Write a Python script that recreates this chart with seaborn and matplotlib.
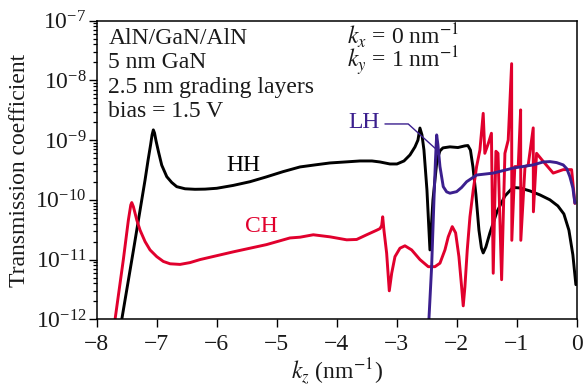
import numpy as np
import pandas as pd
import matplotlib
matplotlib.use("Agg")
import matplotlib.pyplot as plt
from matplotlib.ticker import FixedLocator, NullFormatter, LogFormatterSciNotation
import seaborn as sns

# ---------------- data ----------------
hh_kz = [-7.63, -7.583, -7.388, -7.195, -7.145, -7.103, -7.078, -7.057, -7.037, -7.012,
         -6.970, -6.917, -6.833, -6.75, -6.667, -6.528, -6.362, -6.195, -6.0, -5.728,
         -5.445, -5.178, -4.895, -4.612, -4.362, -4.112, -3.862, -3.612, -3.412, -3.278,
         -3.112, -2.995, -2.878, -2.778, -2.695, -2.645, -2.612, -2.578, -2.545, -2.495,
         -2.445, -2.395, -2.328, -2.278, -2.228, -2.112, -1.978, -1.862, -1.812, -1.77,
         -1.728, -1.678, -1.628, -1.587, -1.557, -1.512, -1.445, -1.328, -1.195, -1.062,
         -0.945, -0.778, -0.612, -0.445, -0.312, -0.212, -0.128, -0.062, -0.012]
hh_T = [6.3e-13, 1.0e-12, 1.45e-11, 2.15e-10, 4.6e-10, 8.3e-10, 1.22e-9, 1.48e-9, 1.31e-9,
        9.7e-10, 6.3e-10, 3.8e-10, 2.44e-10, 1.95e-10, 1.66e-10, 1.53e-10, 1.50e-10,
        1.51e-10, 1.56e-10, 1.74e-10, 2.01e-10, 2.41e-10, 2.96e-10, 3.55e-10, 3.84e-10,
        4.14e-10, 4.30e-10, 4.47e-10, 4.47e-10, 4.30e-10, 3.98e-10, 3.98e-10, 4.47e-10,
        5.64e-10, 7.67e-10, 1.0e-9, 1.59e-9, 1.22e-9, 6.8e-10, 1.46e-10, 1.45e-11,
        1.0e-10, 4.6e-10, 6.6e-10, 7.4e-10, 7.7e-10, 7.5e-10, 8.0e-10, 8.1e-10, 6.8e-10,
        3.55e-10, 1.21e-10, 3.1e-11, 1.57e-11, 1.29e-11, 1.63e-11, 2.8e-11, 6.3e-11,
        1.16e-10, 1.61e-10, 1.58e-10, 1.41e-10, 1.21e-10, 1.0e-10, 7.9e-11, 5.8e-11,
        3.1e-11, 1.2e-11, 3.8e-12]

ch_kz = [-7.73, -7.695, -7.557, -7.473, -7.433, -7.417, -7.39, -7.333, -7.278, -7.195,
         -7.112, -7.0, -6.89, -6.778, -6.612, -6.445, -6.278, -5.72, -5.17, -4.78, -4.61,
         -4.39, -4.11, -3.833, -3.667, -3.5, -3.333, -3.278, -3.25, -3.233, -3.212,
         -3.167, -3.123, -3.083, -3.028, -2.945, -2.862, -2.75, -2.612, -2.473, -2.362,
         -2.278, -2.195, -2.14, -2.073, -2.017, -1.962, -1.917, -1.89, -1.862, -1.823,
         -1.778, -1.723, -1.667, -1.612, -1.557, -1.53, -1.47, -1.42, -1.39, -1.345,
         -1.31, -1.25, -1.195, -1.14, -1.083, -1.08, -1.03, -0.973, -0.933, -0.93,
         -0.86, -0.807, -0.723, -0.72, -0.667, -0.557, -0.39, -0.223, -0.083, -0.028]
ch_T = [6.3e-13, 1.0e-12, 1.0e-11, 4.6e-11, 8.2e-11, 9.0e-11, 7.7e-11, 4.6e-11, 3.1e-11,
        2.0e-11, 1.45e-11, 1.12e-11, 9.3e-12, 8.5e-12, 8.3e-12, 8.9e-12, 1.0e-11,
        1.35e-11, 1.78e-11, 2.3e-11, 2.37e-11, 2.6e-11, 2.4e-11, 2.14e-11, 2.17e-11,
        2.6e-11, 3.1e-11, 3.3e-11, 3.7e-11, 5.2e-11, 3.1e-11, 1.28e-11, 3.0e-12,
        5.9e-12, 1.12e-11, 1.55e-11, 1.7e-11, 1.45e-11, 1.0e-11, 7.6e-12, 7.6e-12,
        8.7e-12, 1.45e-11, 2.4e-11, 3.56e-11, 2.8e-11, 1.12e-11, 3.5e-12, 1.68e-12,
        3.5e-12, 1.45e-11, 5.2e-11, 1.47e-10, 3.6e-10, 6.8e-10, 2.8e-9, 6.0e-10,
        8.9e-10, 1.3e-9, 5.9e-12, 6.5e-10, 6.0e-10, 4.6e-12, 6.0e-10, 1.0e-9, 1.9e-8,
        2.1e-11, 3.6e-10, 3.6e-10, 3.2e-9, 2.1e-11, 3.6e-10, 3.8e-10, 1.6e-9, 6.3e-11,
        6.0e-10, 4.4e-10, 2.8e-10, 3.2e-10, 3.2e-10, 8.7e-11]

lh_kz = [-2.47, -2.462, -2.417, -2.378, -2.353, -2.333, -2.312, -2.278, -2.223, -2.167,
         -2.112, -2.0, -1.917, -1.833, -1.667, -1.39, -1.057, -0.723, -0.557, -0.445,
         -0.333, -0.223, -0.162, -0.112, -0.062, -0.028]
lh_T = [6.3e-13, 1.0e-12, 7.6e-12, 1.0e-10, 4.6e-10, 1.22e-9, 8.3e-10, 3.6e-10, 1.66e-10,
        1.36e-10, 1.29e-10, 1.37e-10, 1.61e-10, 2.01e-10, 2.6e-10, 2.8e-10, 3.4e-10,
        3.84e-10, 4.3e-10, 4.36e-10, 4.2e-10, 3.84e-10, 3.3e-10, 2.44e-10, 1.58e-10,
        8.8e-11]

x_ticks = [-8, -7, -6, -5, -4, -3, -2, -1, 0]
y_ticks = [1e-12, 1e-11, 1e-10, 1e-9, 1e-8, 1e-7]
info_lines = ["AlN/GaN/AlN", "5 nm GaN", "2.5 nm grading layers", "bias = 1.5 V"]
k_lines = [r"$k_x$ = 0 nm$^{-1}$", r"$k_y$ = 1 nm$^{-1}$"]

# ---------------- style ----------------
sns.set_style("ticks")
plt.rcParams["font.family"] = ["Liberation Serif", "DejaVu Serif"]
plt.rcParams["mathtext.fontset"] = "stix"
FS = 17

BLACK = "#000000"
RED = "#e1002d"
PURPLE = "#3b1f8e"
TXT = "#1a1a1a"

fig = plt.figure(figsize=(5.83, 3.88), dpi=100)
ax = fig.add_axes([0.166, 0.177, 0.823, 0.770])

hh = pd.DataFrame({"kz": hh_kz, "T": hh_T})
ch = pd.DataFrame({"kz": ch_kz, "T": ch_T})
lh = pd.DataFrame({"kz": lh_kz, "T": lh_T})

ax.set_yscale("log")
sns.lineplot(data=hh, x="kz", y="T", sort=False, estimator=None, color=BLACK, lw=2.1, ax=ax)
sns.lineplot(data=ch, x="kz", y="T", sort=False, estimator=None, color=RED, lw=2.1, ax=ax)
sns.lineplot(data=lh, x="kz", y="T", sort=False, estimator=None, color=PURPLE, lw=2.1, ax=ax)

ax.set_xlim(-8, 0)
ax.set_ylim(1e-12, 1e-7)
ax.xaxis.set_major_locator(FixedLocator(x_ticks))
ax.yaxis.set_major_locator(FixedLocator(y_ticks))
ax.yaxis.set_major_formatter(LogFormatterSciNotation())
minor_y = [m * d for d in y_ticks[:-1] for m in range(2, 10)]
ax.yaxis.set_minor_locator(FixedLocator(minor_y))
ax.yaxis.set_minor_formatter(NullFormatter())

for s in ax.spines.values():
    s.set_linewidth(1.1)
    s.set_color("black")
ax.tick_params(axis="both", which="major", direction="out", length=6, width=1.0,
               labelsize=FS, color="black", labelcolor=TXT)
ax.tick_params(axis="x", which="major", pad=4.3)
ax.tick_params(axis="y", which="major", pad=1.5)
ax.tick_params(axis="y", which="minor", direction="out", length=3.2, width=0.9, color="black")
ax.tick_params(axis="x", which="minor", length=0)

ax.set_xlabel(r"$k_z$ (nm$^{-1}$)", fontsize=FS, labelpad=1.5, color=TXT)
ax.set_ylabel("Transmission coefficient", fontsize=FS, color=TXT)
ax.yaxis.set_label_coords(-0.139, 0.5)

# annotations
ys = [0.920, 0.840, 0.758, 0.677]
for t, yy in zip(info_lines, ys):
    ax.text(0.024, yy, t, transform=ax.transAxes, ha="left", va="baseline",
            fontsize=FS, color=TXT)
ax.text(0.521, 0.840, "\n".join(k_lines), transform=ax.transAxes, ha="left",
        va="baseline", fontsize=FS, color=TXT, linespacing=0.8)

ax.text(-5.56, 3.8e-10, "HH", ha="center", va="center", fontsize=FS, color=BLACK)
ax.text(-5.25, 3.6e-11, "CH", ha="center", va="center", fontsize=FS, color=RED)
ax.text(-3.29, 1.97e-9, "LH", ha="right", va="center", fontsize=FS, color=PURPLE)
ax.plot([-3.195, -2.807, -2.36], [1.86e-9, 1.86e-9, 7.3e-10], color=PURPLE, lw=1.0)

if ax.get_legend() is not None:
    ax.get_legend().remove()

fig.savefig("out.png", dpi=100)
